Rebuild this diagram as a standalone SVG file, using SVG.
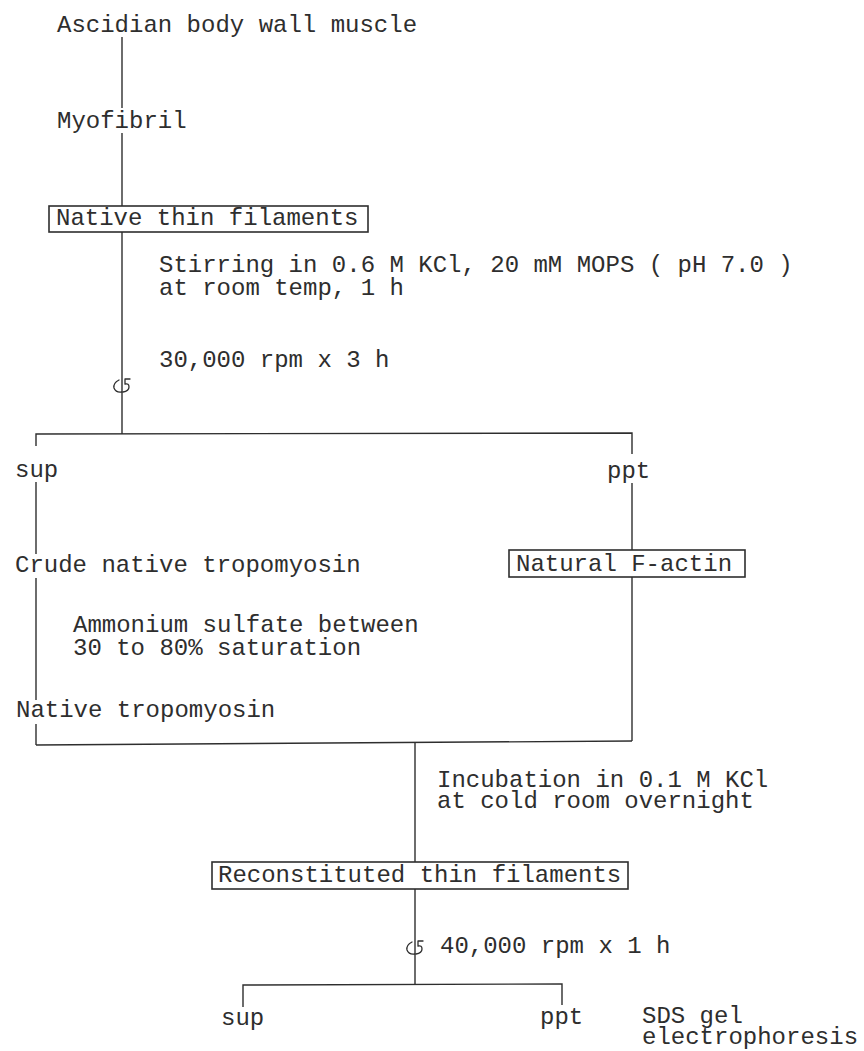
<svg xmlns="http://www.w3.org/2000/svg" width="864" height="1051" viewBox="0 0 864 1051">
<style>
text{font-family:"Liberation Mono","Courier New",monospace;font-size:24px;fill:#2e2e2e}
.ln{stroke:#2e2e2e;stroke-width:1.4;fill:none}
.bx{stroke:#2e2e2e;stroke-width:1.6;fill:none}
.rot{stroke:#2e2e2e;stroke-width:1.3;fill:none;stroke-linecap:round;stroke-linejoin:round}
</style>
<defs>
<g id="rotor">
<path class="rot" d="M -3 -6 Q -9 -3 -8 2 Q -6 7 0 6"/>
<path class="rot" d="M 1 6 Q 7 5 7 1 Q 7 -3 3 -2 L 3 -7 L 8 -7"/>
</g>
</defs>
<rect width="864" height="1051" fill="#fff"/>
<g id="connectors">
<line class="ln" x1="122" y1="37" x2="122" y2="108"/>
<line class="ln" x1="122" y1="133" x2="122" y2="206"/>
<line class="ln" x1="122" y1="232" x2="122" y2="434"/>
<use href="#rotor" x="122" y="386"/>
<polyline class="ln" points="36,446 36,434 632,433 632,454"/>
<line class="ln" x1="36" y1="482" x2="36" y2="554"/>
<line class="ln" x1="36" y1="578" x2="36" y2="700"/>
<line class="ln" x1="36" y1="724" x2="36" y2="745"/>
<line class="ln" x1="632" y1="483" x2="632" y2="550"/>
<line class="ln" x1="632" y1="577" x2="632" y2="741"/>
<line class="ln" x1="36" y1="745" x2="632" y2="741"/>
<line class="ln" x1="415" y1="743" x2="415" y2="862"/>
<line class="ln" x1="415" y1="889" x2="415" y2="985"/>
<use href="#rotor" x="415" y="948"/>
<polyline class="ln" points="243,1007 243,985 562,984 562,1005"/>
</g>
<g id="n-ascidian"><text x="57" y="32">Ascidian body wall muscle</text></g>
<g id="n-myofibril"><text x="57" y="128">Myofibril</text></g>
<g id="n-native-thin"><rect class="bx" x="49" y="206" width="319" height="26"/><text x="56" y="225">Native thin filaments</text></g>
<g id="n-stirring"><text x="159" y="272">Stirring in 0.6 M KCl, 20 mM MOPS ( pH 7.0 )</text><text x="159" y="295">at room temp, 1 h</text></g>
<g id="n-spin1"><text x="159" y="367">30,000 rpm x 3 h</text></g>
<g id="n-sup1"><text x="15" y="477">sup</text></g>
<g id="n-ppt1"><text x="607" y="478">ppt</text></g>
<g id="n-crude"><text x="15" y="572">Crude native tropomyosin</text></g>
<g id="n-factin"><rect class="bx" x="509" y="550" width="236" height="27"/><text x="516" y="571">Natural F-actin</text></g>
<g id="n-ammonium"><text x="73" y="632">Ammonium sulfate between</text><text x="73" y="655">30 to 80% saturation</text></g>
<g id="n-native-tm"><text x="16" y="717">Native tropomyosin</text></g>
<g id="n-incubation"><text x="437" y="787">Incubation in 0.1 M KCl</text><text x="437" y="808">at cold room overnight</text></g>
<g id="n-reconst"><rect class="bx" x="212" y="862" width="416" height="27"/><text x="218" y="882">Reconstituted thin filaments</text></g>
<g id="n-spin2"><text x="440" y="953">40,000 rpm x 1 h</text></g>
<g id="n-sup2"><text x="221" y="1025">sup</text></g>
<g id="n-ppt2"><text x="540" y="1024">ppt</text></g>
<g id="n-sds"><text x="642" y="1023">SDS gel</text><text x="642" y="1044">electrophoresis</text></g>
</svg>
